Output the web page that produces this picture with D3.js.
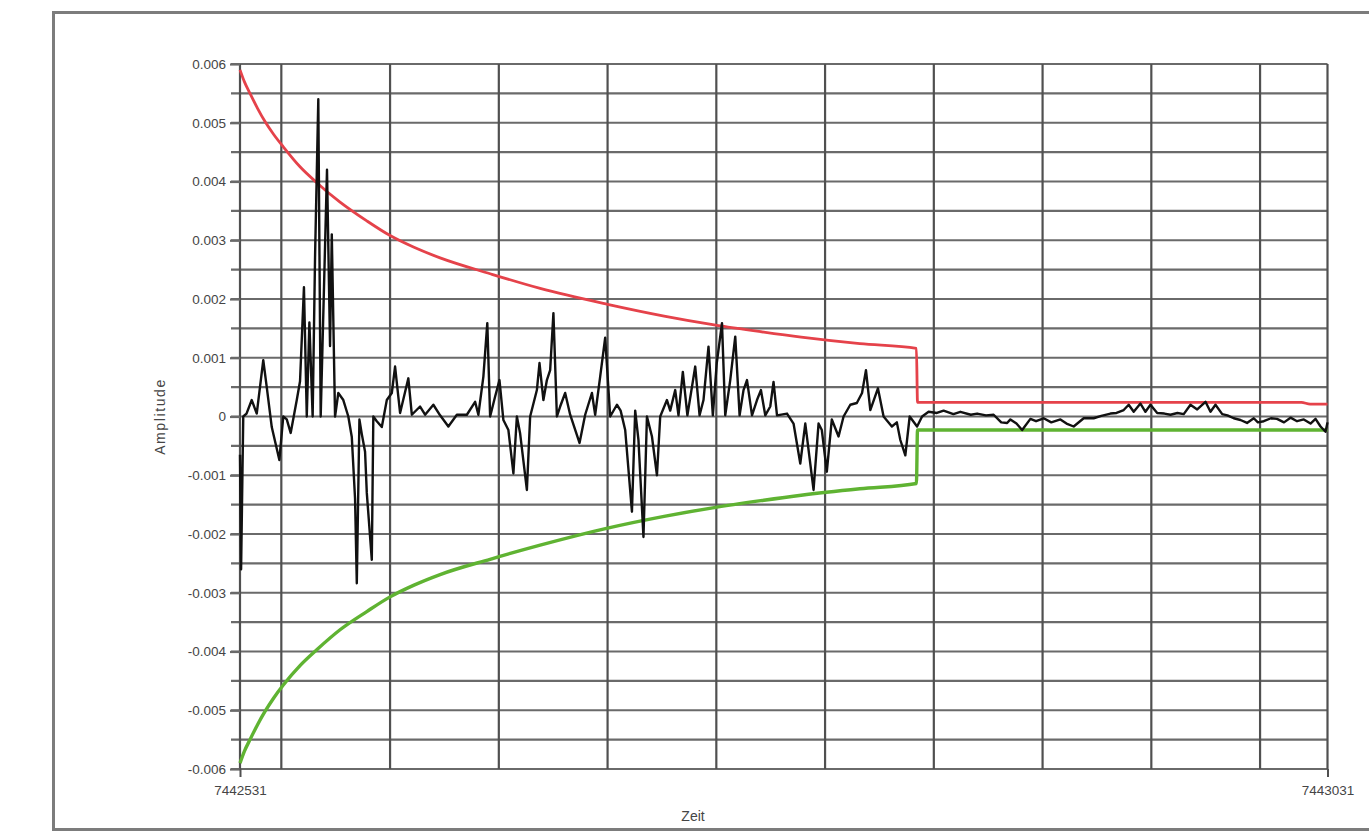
<!DOCTYPE html>
<html>
<head>
<meta charset="utf-8">
<script src="https://cdn.jsdelivr.net/npm/d3@7"></script>
<style>
    html, body { margin: 0; padding: 0; background: #fff; }
    svg { display: block; }
    .tick text { font-family: "Liberation Sans", Arial, sans-serif; font-size: 13.5px; fill: #454545; }
</style>
</head>
<body>
<svg id="chart" width="1369" height="834"></svg>
<script>
    // Zeitachse (Start / Ende)
    const zeitStart = 7442531;
    const zeitEnde = 7443031;
    const zeitGitter = [7442550, 7442600, 7442650, 7442700, 7442750, 7442800, 7442850, 7442900, 7442950, 7443000];
    const ampTicks = [-0.006, -0.005, -0.004, -0.003, -0.002, -0.001, 0, 0.001, 0.002, 0.003, 0.004, 0.005, 0.006];

    // Grenzkurven (obere rot, untere grün), Zeit als Offset zum Start
    const grenzeOffset = [0, 2, 4.6, 8, 11.5, 15.5, 19.9, 27.6, 35.3, 46, 58.3, 69, 80, 92, 115, 138, 169, 195, 218, 240, 258, 285, 311, 311.5, 350, 400, 450, 488, 492, 500];
    const grenzeOben = [0.0059, 0.0057, 0.0055, 0.00525, 0.00502, 0.0048, 0.00459, 0.00425, 0.00398, 0.00365, 0.00333, 0.00308, 0.00288, 0.0027, 0.00243, 0.00218, 0.00191, 0.00171, 0.00156, 0.00144, 0.00135, 0.00124, 0.00116, 0.00024, 0.00024, 0.00024, 0.00024, 0.00024, 0.00021, 0.00021];
    const grenzeUnten = [-0.0059, -0.0057, -0.0055, -0.00525, -0.00502, -0.00479, -0.00457, -0.00424, -0.00397, -0.00363, -0.00332, -0.00307, -0.00287, -0.00269, -0.00243, -0.00219, -0.0019, -0.0017, -0.00155, -0.00143, -0.00134, -0.00123, -0.00114, -0.00023, -0.00023, -0.00023, -0.00023, -0.00023, -0.00023, -0.00023];

    // Messsignal (schwarz)
    const signalOffset = [0, 0.5, 1.5, 3, 5.4, 7.7, 10.7, 12.3, 14.6, 18.1, 19.9, 21.5, 23.3, 26.1, 27.6, 29.4, 30.7, 31.9, 33.4, 34.5, 36, 37.1, 40, 41.4, 42.2, 43.7,
        45.2, 47.5, 49.8, 51.4, 52.9, 53.7, 54.9, 56, 57.5, 58.3, 60.6, 61.3, 62.9, 65.2, 67.5, 69.8, 71.3, 73.6, 77.4, 79, 82.8, 85.1, 88.9, 92, 95.8, 99.7,
        104.3, 108.1, 109.6, 111.9, 113.7, 115, 117.3, 119.3, 121.1, 123.4, 125.7, 127.3, 128.8, 131.9, 133.4, 136.5, 137.7, 139.5, 141.1, 142.6, 144.1, 145.7,
        147.2, 149.5, 151.8, 156.1, 158.7, 161.8, 163.3, 165.6, 167.9, 170.2, 173.3, 175, 177.1, 180.2, 181.7, 183.2, 185.5, 187.1, 189.4, 191.7, 193.2, 196.3,
        197.8, 200.1, 201.6, 203.6, 205.7, 209.3, 211.3, 213.1, 215.4, 217.4, 219.2, 221.6, 223.1, 225.4, 227.7, 229.7, 231.5, 233.1, 235.4, 237.7, 239.5, 241.5,
        243.8, 245.3, 246.9, 251.5, 254.5, 257.6, 259.9, 263.7, 266, 267.5, 269.8, 272.1, 275.2, 277.5, 280.6, 283.6, 286, 287.8, 289.8, 293.3, 295.9, 299.7,
        302, 303.6, 305.9, 307.9, 311.3, 313.6, 316.6, 320.4, 323.5, 328, 331.2, 336, 338.9, 343, 346.5, 350, 352.7, 354.2, 357, 359.6, 363.4, 366, 369.5, 373,
        377.2, 380, 383.3, 387.9, 392.5, 396, 400.2, 403, 406.3, 408.6, 410.9, 414, 416.3, 418.6, 421.7, 425, 427.8, 431, 433.9, 437, 440.1, 443.9, 446.2, 448.5,
        451.6, 454, 456.9, 460, 463, 466.1, 468, 470.7, 474, 476.8, 480, 483, 486, 489.1, 492.2, 494.5, 496.8, 499.1, 500];
    const signalAmp = [-0.00065, -0.0026, 0, 0.00005, 0.00028, 0.00005, 0.00096, 0.0005, -0.00018, -0.00074, 0, -0.00005, -0.00028, 0.00028, 0.0006, 0.0022, 0, 0.0016, 0, 0.0027, 0.0054, 0, 0.0042, 0.0012, 0.0031, 0,
        0.0004, 0.00028, 0, -0.00035, -0.0014, -0.00284, -0.00005, -0.0003, -0.0006, -0.0013, -0.00244, 0, -0.00008, -0.00018, 0.00028, 0.0004, 0.00085, 0.00006, 0.00065, 0.00003, 0.00017, 0.00003, 0.0002, 0.00002, -0.00017, 0.00003,
        0.00003, 0.00025, 0.00003, 0.00068, 0.00159, 0, 0.00034, 0.00062, -0.00006, -0.00023, -0.00097, 0, -0.00029, -0.00125, 0, 0.00045, 0.00091, 0.00028, 0.00062, 0.00079, 0.00176, 0,
        0.00017, 0.0004, 0.00003, -0.00045, 0.00003, 0.0004, 0.00003, 0.00068, 0.00134, 0, 0.0002, 0.0001, -0.00023, -0.00162, 0.0001, -0.0004, -0.00205, 0, -0.00034, -0.001, 0, 0.00028,
        0.0001, 0.00045, 0.00002, 0.00076, 0.00002, 0.00085, 0.00002, 0.00028, 0.00119, 0.00002, 0.00091, 0.00159, 0.00002, 0.00062, 0.00136, 0.00002, 0.00045, 0.00062, 0.00002, 0.00028, 0.00045, 0.00002,
        0.00017, 0.00059, 0.00002, 0.00005, -0.00012, -0.0008, -0.00012, -0.00125, -0.00012, -0.00023, -0.00094, -0.00005, -0.00034, 0, 0.0002, 0.00023, 0.0004, 0.00079, 0.00011, 0.00048, 0, -0.00017,
        -0.0001, -0.0004, -0.00066, 0, -0.00017, 0, 0.00008, 0.00006, 0.0001, 0.00004, 0.00008, 0.00003, 0.00005, 0.00002, 0.00003, -0.0001, -0.00011, -0.00005, -0.00012, -0.00023, -0.00004, -0.00008, -0.00003, -0.0001,
        -0.00005, -0.00012, -0.00017, -0.00003, -0.00003, 0.00001, 0.00005, 0.00006, 0.00011, 0.0002, 0.00008, 0.00022, 0.00008, 0.0002, 0.00006, 0.00005, 0.00003, 0.00006, 0.00004, 0.0002, 0.00012, 0.00025, 0.00008, 0.0002,
        0.00004, 0.00002, -0.00003, -0.00006, -0.00011, -0.00003, -0.0001, -0.00008, -0.00003, -0.00004, -0.0001, -0.00002, -0.00008, -0.00005, -0.00012, -0.00004, -0.00017, -0.00026, -0.0001];

    const svg = d3.select("#chart");

    // plot area in page pixels
    const plotLeft = 240, plotRight = 1327.5, plotTop = 64, plotBottom = 769;

    const x = d3.scaleLinear().domain([zeitStart, zeitEnde]).range([plotLeft, plotRight]);
    const y = d3.scaleLinear().domain([-0.006, 0.006]).range([plotBottom, plotTop]);

    // outer frame
    svg.append("rect")
        .attr("x", 53.5).attr("y", 12.5)
        .attr("width", 1400).attr("height", 817)
        .attr("fill", "none")
        .attr("stroke", "#7c7c7c")
        .attr("stroke-width", 3);

    // horizontal grid (every 0.0005)
    const hGrid = d3.range(-12, 13).map(i => i * 0.0005);
    svg.append("g").selectAll("line")
        .data(hGrid)
        .join("line")
        .attr("x1", plotLeft - 9).attr("x2", plotRight)
        .attr("y1", d => y(d)).attr("y2", d => y(d))
        .attr("stroke", "#6a6a6a")
        .attr("stroke-width", 2.2);

    // vertical grid
    svg.append("g").selectAll("line")
        .data(zeitGitter.concat([zeitStart, zeitEnde]))
        .join("line")
        .attr("x1", d => x(d)).attr("x2", d => x(d))
        .attr("y1", plotTop).attr("y2", plotBottom)
        .attr("stroke", "#505050")
        .attr("stroke-width", 2.2);

    // y axis
    const fmt = d => d === 0 ? "0" : d3.format(".3f")(d).replace("\u2212", "-");
    const yAxis = svg.append("g")
        .attr("transform", "translate(" + plotLeft + ",0)")
        .call(d3.axisLeft(y).tickValues(ampTicks).tickSize(10).tickPadding(4).tickFormat(fmt));
    yAxis.select(".domain").remove();
    yAxis.selectAll(".tick line").attr("stroke", "#6a6a6a").attr("stroke-width", 2.2);

    // x axis, only start and end labelled
    const xAxis = svg.append("g")
        .attr("transform", "translate(0," + plotBottom + ")")
        .call(d3.axisBottom(x).tickValues([zeitStart, zeitEnde]).tickSize(8).tickPadding(8).tickFormat(d3.format("d")));
    xAxis.select(".domain").remove();
    xAxis.selectAll(".tick line").attr("stroke", "#505050").attr("stroke-width", 2);

    // axis titles
    svg.append("text")
        .attr("transform", "translate(165," + y(0) + ") rotate(-90)")
        .attr("text-anchor", "middle")
        .style("font-family", "Liberation Sans, Arial, sans-serif")
        .style("font-size", "14px")
        .style("letter-spacing", "1.6px")
        .style("fill", "#454545")
        .text("Amplitude");

    svg.append("text")
        .attr("x", 693).attr("y", 821)
        .attr("text-anchor", "middle")
        .style("font-family", "Liberation Sans, Arial, sans-serif")
        .style("font-size", "14px")
        .style("fill", "#454545")
        .text("Zeit");

    const line = d3.line()
        .x(d => x(d[0]))
        .y(d => y(d[1]));

    const smooth = d3.line()
        .x(d => x(d[0]))
        .y(d => y(d[1]))
        .curve(d3.curveMonotoneX);

    // envelopes
    svg.append("path")
        .datum(grenzeOffset.map((o, i) => [zeitStart + o, grenzeOben[i]]))
        .attr("d", smooth)
        .attr("fill", "none")
        .attr("stroke", "#e5424a")
        .attr("stroke-width", 2.8);

    svg.append("path")
        .datum(grenzeOffset.map((o, i) => [zeitStart + o, grenzeUnten[i]]))
        .attr("d", smooth)
        .attr("fill", "none")
        .attr("stroke", "#5fb332")
        .attr("stroke-width", 3.4);

    // signal
    svg.append("path")
        .datum(signalOffset.map((o, i) => [zeitStart + o, signalAmp[i]]))
        .attr("d", line)
        .attr("fill", "none")
        .attr("stroke", "#111")
        .attr("stroke-width", 2.4)
        .attr("stroke-linejoin", "round");
</script>
</body>
</html>
